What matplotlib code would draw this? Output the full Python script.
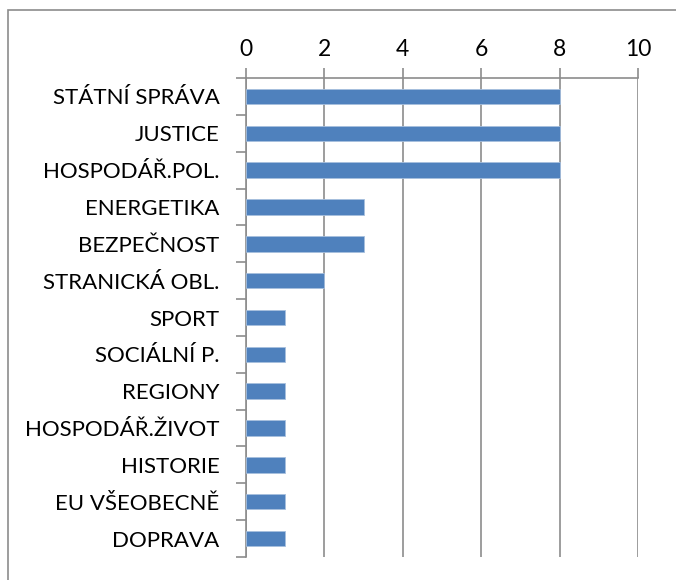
import matplotlib.pyplot as plt
from matplotlib.patches import Rectangle

categories = ["STÁTNÍ SPRÁVA", "JUSTICE", "HOSPODÁŘ.POL.", "ENERGETIKA", "BEZPEČNOST",
              "STRANICKÁ OBL.", "SPORT", "SOCIÁLNÍ P.", "REGIONY", "HOSPODÁŘ.ŽIVOT",
              "HISTORIE", "EU VŠEOBECNĚ", "DOPRAVA"]
values = [8, 8, 8, 3, 3, 2, 1, 1, 1, 1, 1, 1, 1]
xticks = [0, 2, 4, 6, 8, 10]

plt.rcParams['font.family'] = ['Lato', 'DejaVu Sans']

fig = plt.figure(figsize=(6.76, 5.80), dpi=100)
ax = fig.add_axes([246 / 676, 1 - 557 / 580, 392 / 676, 479 / 580])

grid_col = '#8c8c8c'
n = len(categories)
ypos = list(range(n))
ax.barh(ypos, values, height=0.42, color='#4F81BD', edgecolor='#a7c0de', linewidth=0.6, zorder=3)

ax.set_xlim(0, 10)
ax.set_ylim(n - 0.5, -0.5)
ax.xaxis.tick_top()
ax.set_xticks(xticks)
ax.set_xticklabels([str(t) for t in xticks], fontsize=16.5)
ax.tick_params(axis='x', length=7, width=1.2, color=grid_col, pad=6)
ax.grid(True, axis='x', color=grid_col, linewidth=1.2, zorder=0)

# category labels at centres, tick marks at boundaries
ax.set_yticks(ypos)
ax.set_yticklabels(categories, fontsize=16)
ax.tick_params(axis='y', length=0, pad=19)
ax.set_yticks([i - 0.5 for i in range(n + 1)], minor=True)
ax.tick_params(axis='y', which='minor', length=7, width=1.2, color=grid_col)

for s in ['right', 'bottom']:
    ax.spines[s].set_visible(False)
for s in ['left', 'top']:
    ax.spines[s].set_color(grid_col)
    ax.spines[s].set_linewidth(1.2)

# outer chart border
fig.patches.append(Rectangle((8 / 676, -0.05), 1.1, 1 - 10 / 580 + 0.05,
                             transform=fig.transFigure, fill=False,
                             edgecolor='#8c8c8c', linewidth=1.2))

fig.savefig('out.png', dpi=100)
